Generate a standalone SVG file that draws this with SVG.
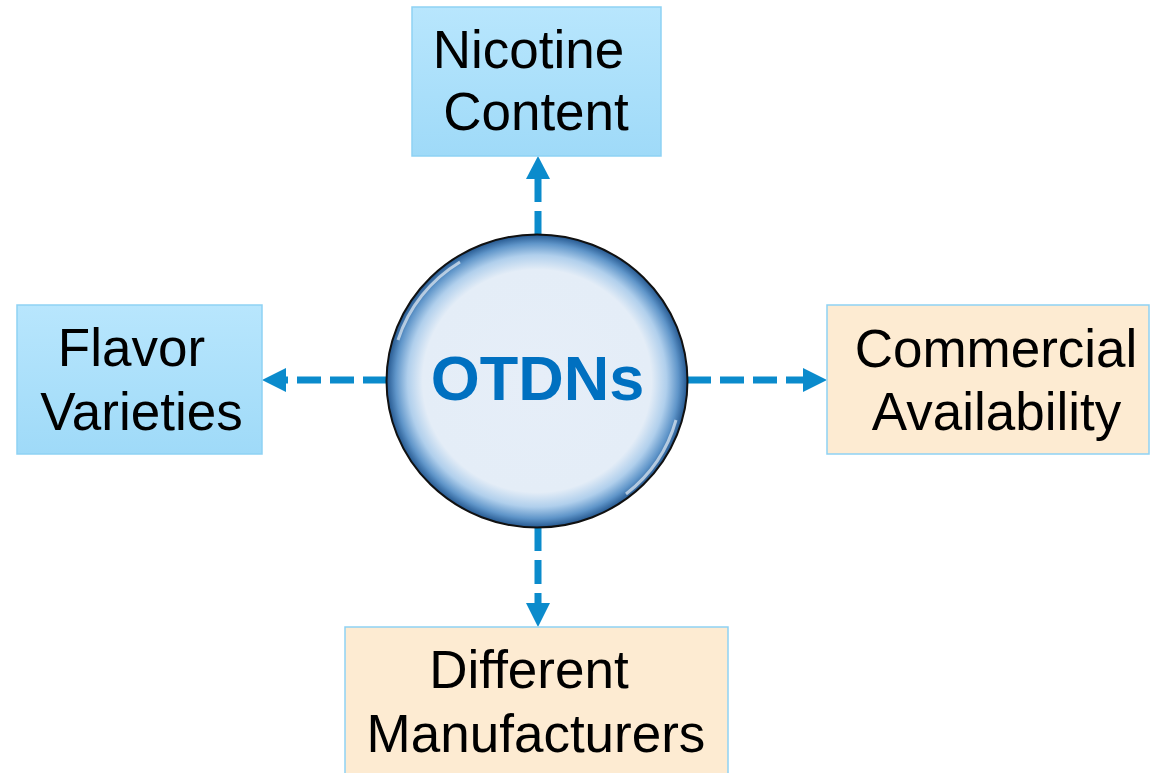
<svg xmlns="http://www.w3.org/2000/svg" width="1150" height="773" viewBox="0 0 1150 773">
<style>
.lbl{font-family:"Liberation Sans",Arial,sans-serif;font-size:53px;fill:#000;text-anchor:middle}
.blue{fill:url(#gBlue);stroke:#8ED2F4;stroke-width:1.5}
.peach{fill:#FDEBD2;stroke:#8ED2F4;stroke-width:1.5}
.conn{stroke:#0B8BCC;stroke-width:7;fill:none;stroke-dasharray:24 9}
.head{fill:#0B8BCC}
</style>
<defs>
<linearGradient id="gBlue" x1="0" y1="0" x2="0" y2="1">
<stop offset="0" stop-color="#B8E6FD"/>
<stop offset="1" stop-color="#9FDAF8"/>
</linearGradient>
<radialGradient id="gCirc" cx="0.5" cy="0.5" r="0.5">
<stop offset="0" stop-color="#E6EEF8"/>
<stop offset="0.76" stop-color="#E4EDF7"/>
<stop offset="0.86" stop-color="#B0CFEC"/>
<stop offset="0.94" stop-color="#5F95C9"/>
<stop offset="1" stop-color="#24578F"/>
</radialGradient>
</defs>
<g id="connectors">
<line class="conn" x1="538" y1="235" x2="538" y2="178"/>
<polygon class="head" points="538,156 526,179 550,179"/>
<line class="conn" x1="387" y1="380" x2="286" y2="380"/>
<polygon class="head" points="262,380 286,368 286,392"/>
<line class="conn" x1="687" y1="380" x2="804" y2="380"/>
<polygon class="head" points="827,380 803,368 803,392"/>
<line class="conn" x1="538" y1="527" x2="538" y2="604"/>
<polygon class="head" points="538,627 526,603 550,603"/>
</g>
<g id="node-center">
<ellipse cx="537" cy="381" rx="150.5" ry="146.5" fill="url(#gCirc)" stroke="#111" stroke-width="2"/>
<path d="M398,340 A145,142 0 0 1 460,262" fill="none" stroke="#fff" stroke-width="3" opacity="0.6"/>
<path d="M676,420 A145,142 0 0 1 626,494" fill="none" stroke="#fff" stroke-width="3" opacity="0.6"/>
<text x="537.5" y="400" style="font-family:'Liberation Sans',Arial,sans-serif;font-size:63px;font-weight:bold;fill:#0070C0;text-anchor:middle">OTDNs</text>
</g>
<g id="node-nicotine">
<rect class="blue" x="412" y="7" width="249" height="149"/>
<text class="lbl" x="528.5" y="68">Nicotine</text>
<text class="lbl" x="536" y="130">Content</text>
</g>
<g id="node-flavor">
<rect class="blue" x="17" y="305" width="245" height="149"/>
<text class="lbl" x="131.5" y="366">Flavor</text>
<text class="lbl" x="141.5" y="430">Varieties</text>
</g>
<g id="node-commercial">
<rect class="peach" x="827" y="305" width="322" height="149"/>
<text class="lbl" x="996" y="367">Commercial</text>
<text class="lbl" x="996.5" y="430">Availability</text>
</g>
<g id="node-manufacturers">
<rect class="peach" x="345" y="627" width="383" height="160"/>
<text class="lbl" x="529" y="688">Different</text>
<text class="lbl" x="536" y="752">Manufacturers</text>
</g>
</svg>
